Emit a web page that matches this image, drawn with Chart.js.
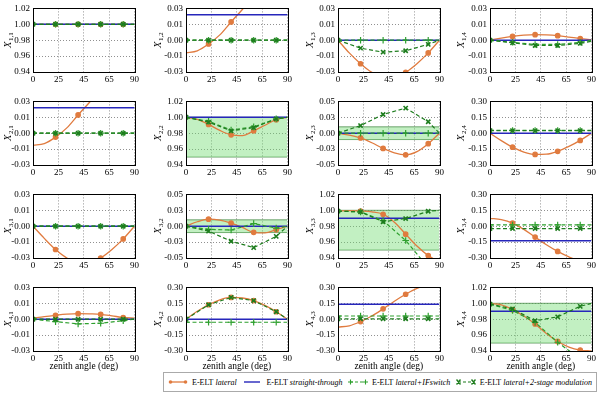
<!DOCTYPE html>
<html><head><meta charset="utf-8">
<script src="https://cdn.jsdelivr.net/npm/chart.js@4.4.0/dist/chart.umd.min.js"></script>
<style>
html,body{margin:0;padding:0;background:#fff;width:600px;height:396px;overflow:hidden;}
body{position:relative;}
canvas{position:absolute;}
#legend{position:absolute;left:163px;top:372px;width:434px;height:20px;border:1px solid #aaa;box-sizing:border-box;background:#fff;
 display:flex;align-items:center;justify-content:space-between;padding:0 4px;font-family:"Liberation Serif",serif;font-size:8px;color:#000;white-space:nowrap;}
#legend span{display:flex;align-items:center;}
#legend svg{margin-right:4px;}
</style></head><body>
<div id="legend">
 <span><svg width="20" height="8"><line x1="2" y1="4" x2="18" y2="4" stroke="#e07b3f" stroke-width="1.3"/><circle cx="2.5" cy="4" r="1.8" fill="#e07b3f"/><circle cx="17.5" cy="4" r="1.8" fill="#e07b3f"/></svg>E-ELT&nbsp;<i>lateral</i></span>
 <span><svg width="20" height="8"><line x1="2" y1="4" x2="18" y2="4" stroke="#2626bb" stroke-width="1.4"/></svg>E-ELT&nbsp;<i>straight-through</i></span>
 <span><svg width="20" height="8"><line x1="2" y1="4" x2="18" y2="4" stroke="#2ea02e" stroke-width="1.1" stroke-dasharray="3,2"/><path d="M0 4h5M2.5 1.5v5M15 4h5M17.5 1.5v5" stroke="#2ea02e" stroke-width="1.1"/></svg>E-ELT&nbsp;<i>lateral+IFswitch</i></span>
 <span><svg width="20" height="8"><line x1="2" y1="4" x2="18" y2="4" stroke="#1e7d1e" stroke-width="1.1" stroke-dasharray="3,2"/><path d="M0.5 1.5l4 5M4.5 1.5l-4 5M15.5 1.5l4 5M19.5 1.5l-4 5" stroke="#1e7d1e" stroke-width="1.4"/></svg>E-ELT&nbsp;<i>lateral+2-stage modulation</i></span>
</div>
<script>
// ---------------- DATA ----------------
const X_TICKS = [0, 22.5, 45, 67.5, 90];
const X_TICK_LABELS = ['0', '25', '45', '65', '90'];

const LAT_X = [0, 10, 20, 30, 40, 50, 60, 70, 80, 90];   // lateral curve sample angles
const LAT_MARK_X = [20, 40, 60, 80];                       // lateral markers
const GREEN_X = [0, 20, 40, 60, 80, 90];                   // IFswitch / 2-stage angles
const GREEN_MARK_X = [0, 20, 40, 60, 80];

const PANEL_NAMES = ['1,1','1,2','1,3','1,4','2,1','2,2','2,3','2,4','3,1','3,2','3,3','3,4','4,1','4,2','4,3','4,4'];

const TICKS_A = ['-0.03', '-0.01', '0.00', '0.01', '0.03'];
const TICKS_B = ['-0.05', '-0.03', '0.00', '0.03', '0.05'];
const TICKS_C = ['-0.30', '-0.15', '0.00', '0.15', '0.30'];
const TICKS_D = ['0.94', '0.96', '0.98', '1.00', '1.02'];

const Y_RANGES = [
  [0.94, 1.02], [-0.03, 0.03], [-0.03, 0.03], [-0.03, 0.03],
  [-0.03, 0.03], [0.94, 1.02], [-0.05, 0.05], [-0.30, 0.30],
  [-0.03, 0.03], [-0.05, 0.05], [0.94, 1.02], [-0.30, 0.30],
  [-0.03, 0.03], [-0.30, 0.30], [-0.30, 0.30], [0.94, 1.02]
];
const Y_TICK_LABELS = [
  TICKS_D, TICKS_A, TICKS_A, TICKS_A,
  TICKS_A, TICKS_D, TICKS_B, TICKS_C,
  TICKS_A, TICKS_B, TICKS_D, TICKS_C,
  TICKS_A, TICKS_C, TICKS_C, TICKS_D
];

// E-ELT lateral (at LAT_X)
const LATERAL = [
  [1, 1, 1, 1, 1, 1, 1, 1, 1, 1],
  [-0.012, -0.010, -0.0036, 0.005, 0.0172, 0.029, 0.041, 0.051, 0.058, 0.061],
  [0, -0.012, -0.0222, -0.0303, -0.0345, -0.0345, -0.0303, -0.0222, -0.012, 0],
  [0, 0.002, 0.0036, 0.0047, 0.0052, 0.005, 0.0043, 0.003, 0.0015, 0.0005],
  [-0.0115, -0.0098, -0.0037, 0.005, 0.0172, 0.029, 0.041, 0.051, 0.058, 0.061],
  [1.0, 0.9975, 0.991, 0.9835, 0.978, 0.977, 0.983, 0.990, 0.997, 1.0],
  [0, -0.003, -0.0075, -0.015, -0.024, -0.031, -0.034, -0.029, -0.0165, 0],
  [0, -0.07, -0.132, -0.178, -0.200, -0.198, -0.171, -0.125, -0.068, 0],
  [0, -0.0115, -0.022, -0.030, -0.0345, -0.0345, -0.030, -0.022, -0.012, 0],
  [0, 0.007, 0.011, 0.0095, 0.0047, -0.002, -0.0097, -0.0105, -0.0055, 0],
  [0.999, 0.9995, 0.999, 0.998, 0.995, 0.985, 0.970, 0.955, 0.943, 0.935],
  [0.074, 0.062, 0.029, -0.03, -0.103, -0.175, -0.238, -0.29, -0.33, -0.345],
  [0.001, 0.0025, 0.0037, 0.0047, 0.0052, 0.005, 0.0046, 0.0032, 0.0016, 0.001],
  [0, 0.075, 0.1365, 0.183, 0.2055, 0.200, 0.1755, 0.130, 0.0705, 0],
  [-0.074, -0.062, -0.0225, 0.03, 0.0975, 0.17, 0.2355, 0.29, 0.33, 0.345],
  [0.9995, 0.998, 0.992, 0.984, 0.974, 0.962, 0.952, 0.945, 0.9412, 0.940]
];

// E-ELT straight-through (constant)
const STRAIGHT = [1.0, 0.024, 0, 0, 0.024, 1.0, 0, 0, 0, 0, 0.99, -0.137, 0, 0, 0.14, 0.99];

// E-ELT lateral+IFswitch (at GREEN_X)
const IFSWITCH = [
  [1, 1, 1, 1, 1, 1],
  [0, 0, 0, 0, 0, 0],
  [0, 0, 0, 0, 0, 0],
  [0, -0.002, -0.004, -0.004, -0.002, 0],
  [0, 0, 0, 0, 0, 0],
  [1.0, 0.995, 0.984, 0.988, 0.998, 1.0],
  [0, 0, 0, 0, 0, 0],
  [0.026, 0.026, 0.026, 0.026, 0.026, 0.026],
  [0, 0, 0, 0, 0, 0],
  [0, -0.005, -0.006, 0.004, -0.003, 0],
  [0.999, 0.998, 0.987, 0.962, 0.928, 0.91],
  [0.012, 0.012, 0.012, 0.012, 0.012, 0.012],
  [0, -0.0023, -0.0044, -0.0038, -0.0013, 0],
  [-0.029, -0.029, -0.029, -0.029, -0.029, -0.029],
  [0.03, 0.03, 0.03, 0.03, 0.03, 0.03],
  [0.999, 0.991, 0.976, 0.951, 0.93, 0.92]
];

// E-ELT lateral+2-stage modulation (at GREEN_X)
const TWO_STAGE = [
  [1, 1, 1, 1, 1, 1],
  [0, 0, 0, 0, 0, 0],
  [0, -0.0075, -0.0113, -0.010, -0.0039, 0],
  [0, -0.0025, -0.005, -0.005, -0.003, -0.001],
  [0, 0, 0, 0, 0, 0],
  [1.0, 0.994, 0.983, 0.987, 0.998, 1.0],
  [0, 0.012, 0.0295, 0.0395, 0.018, 0],
  [0.024, 0.024, 0.024, 0.024, 0.024, 0.024],
  [0, 0, 0, 0, 0, 0],
  [0, -0.0077, -0.0236, -0.0336, -0.016, 0],
  [0.999, 0.998, 0.9856, 0.9896, 0.9988, 1.0],
  [-0.022, -0.022, -0.022, -0.022, -0.022, -0.022],
  [0, 0, 0, 0, 0, 0],
  [0, 0.1365, 0.2055, 0.1755, 0.0705, 0],
  [0.004, 0.004, 0.004, 0.004, 0.004, 0.004],
  [0.999, 0.993, 0.978, 0.983, 0.9962, 1.0]
];

// tolerance bands [low, high] (null = none)
const BANDS = [
  null, null, null, null,
  null, [0.95, 1.0], [-0.01, 0.01], null,
  null, [-0.01, 0.01], [0.95, 1.0], null,
  null, null, null, [0.95, 1.0]
];

// ---------------- LAYOUT / STYLE ----------------
const ROW_TOP = [6, 99, 192, 285];
const COL_LEFT = [33, 186, 338, 490];
const PLOT_W = 102, PLOT_H = 66, Y_AXIS_W = 33, PAD_T = 6, PAD_R = 6;
const YLAB_OFF = [24, 27, 27, 28];
const ORANGE = '#e07b3f', BLUE = '#2626bb', G_IF = '#2ea02e', G_2S = '#1e7d1e';
const BAND_FILL = 'rgba(110,220,110,0.42)', BAND_EDGE = '#4f8f4f';
const FONT = '"Liberation Serif", serif';

const framePlugin = {
  id: 'frame',
  afterDatasetsDraw(chart) {
    const {ctx, chartArea: a} = chart;
    ctx.save();
    ctx.strokeStyle = '#000';
    ctx.lineWidth = 1;
    ctx.strokeRect(Math.round(a.left) + 0.5, Math.round(a.top) + 0.5, Math.round(a.right - a.left), Math.round(a.bottom - a.top));
    ctx.restore();
  }
};
const yLabelPlugin = {
  id: 'ylab',
  afterDraw(chart, args, opts) {
    const {ctx, chartArea: a} = chart;
    const cx = a.left - opts.offset;
    const cy = (a.top + a.bottom) / 2;
    ctx.save();
    ctx.translate(cx, cy);
    ctx.rotate(-Math.PI / 2);
    ctx.fillStyle = '#000';
    ctx.textBaseline = 'middle';
    ctx.textAlign = 'left';
    ctx.font = 'italic 10.5px ' + FONT;
    const wX = ctx.measureText('X').width;
    ctx.font = '7px ' + FONT;
    const wS = ctx.measureText(opts.sub).width;
    const x0 = -(wX + wS + 0.5) / 2;
    ctx.font = 'italic 10.5px ' + FONT;
    ctx.fillText('X', x0, -1);
    ctx.font = '7px ' + FONT;
    ctx.fillText(opts.sub, x0 + wX + 0.5, 2.5);
    ctx.restore();
  }
};

function pts(xs, ys) { return xs.map((x, k) => ({x: x, y: ys[k]})); }

PANEL_NAMES.forEach((name, i) => {
  const r = Math.floor(i / 4), c = i % 4;
  const bottomRow = r === 3;
  const xAxisH = bottomRow ? 24 : 16;
  const W = Y_AXIS_W + PLOT_W + PAD_R;
  const H = PAD_T + PLOT_H + xAxisH;
  const cv = document.createElement('canvas');
  cv.width = W; cv.height = H;
  cv.style.left = (COL_LEFT[c] - Y_AXIS_W) + 'px';
  cv.style.top = (ROW_TOP[r] - PAD_T) + 'px';
  cv.style.width = W + 'px'; cv.style.height = H + 'px';
  document.body.appendChild(cv);

  const [ymin, ymax] = Y_RANGES[i];
  const labels = Y_TICK_LABELS[i];
  const datasets = [];
  datasets.push({
    data: pts(GREEN_X, TWO_STAGE[i]), borderColor: G_2S, borderWidth: 1.2, borderDash: [4, 2.5],
    pointStyle: 'crossRot', pointBorderColor: G_2S, pointBorderWidth: 1.6,
    pointRadius: ctx => GREEN_MARK_X.includes(GREEN_X[ctx.dataIndex]) ? 3 : 0, tension: 0, fill: false
  });
  datasets.push({
    data: pts(GREEN_X, IFSWITCH[i]), borderColor: G_IF, borderWidth: 1.2, borderDash: [4, 2.5],
    pointStyle: 'cross', pointBorderColor: G_IF, pointBorderWidth: 1.2,
    pointRadius: ctx => GREEN_MARK_X.includes(GREEN_X[ctx.dataIndex]) ? 3.3 : 0, tension: 0, fill: false
  });
  datasets.push({
    data: pts([0, 90], [STRAIGHT[i], STRAIGHT[i]]), borderColor: BLUE, borderWidth: 1.5,
    pointRadius: 0, fill: false
  });
  datasets.push({
    data: pts(LAT_X, LATERAL[i]), borderColor: ORANGE, borderWidth: 1.3, backgroundColor: ORANGE,
    pointStyle: 'circle', pointBackgroundColor: ORANGE, pointBorderColor: ORANGE,
    pointRadius: ctx => LAT_MARK_X.includes(LAT_X[ctx.dataIndex]) ? 2.2 : 0,
    cubicInterpolationMode: 'monotone', fill: false
  });
  if (BANDS[i]) {
    datasets.push({
      data: pts([0, 90], [BANDS[i][1], BANDS[i][1]]), borderColor: BAND_EDGE, borderWidth: 0.8,
      backgroundColor: BAND_FILL, pointRadius: 0, fill: '+1'
    });
    datasets.push({
      data: pts([0, 90], [BANDS[i][0], BANDS[i][0]]), borderColor: BAND_EDGE, borderWidth: 0.8,
      pointRadius: 0, fill: false
    });
  }

  new Chart(cv, {
    type: 'line',
    data: {datasets},
    options: {
      responsive: false, animation: false, events: [],
      layout: {padding: {top: PAD_T, right: PAD_R, left: 0, bottom: 0}},
      plugins: {legend: {display: false}, tooltip: {enabled: false},
        ylab: {offset: YLAB_OFF[c], sub: name}},
      scales: {
        x: {
          type: 'linear', min: 0, max: 90,
          afterBuildTicks: s => { s.ticks = X_TICKS.map(v => ({value: v})); },
          afterFit: s => { s.height = xAxisH; },
          ticks: {callback: (v, k) => X_TICK_LABELS[k], font: {family: FONT, size: 9}, color: '#000',
                  padding: 2, maxRotation: 0, autoSkip: false},
          grid: {color: 'rgba(0,0,0,0.55)', lineWidth: 0.8, drawTicks: false},
          border: {display: false, dash: [1, 2]},
          title: {display: bottomRow, text: 'zenith angle (deg)', font: {family: FONT, size: 9.5}, color: '#000',
                  padding: {top: 0, bottom: 3}}
        },
        y: {
          type: 'linear', min: ymin, max: ymax,
          afterBuildTicks: s => { s.ticks = [0, 1, 2, 3, 4].map(k => ({value: ymin + k * (ymax - ymin) / 4})); },
          afterFit: s => { s.width = Y_AXIS_W; },
          ticks: {callback: (v, k) => labels[k], font: {family: FONT, size: 9}, color: '#000',
                  padding: 3, autoSkip: false},
          grid: {color: 'rgba(0,0,0,0.55)', lineWidth: 0.8, drawTicks: false},
          border: {display: false, dash: [1, 2]}
        }
      }
    },
    plugins: [framePlugin, yLabelPlugin]
  });
});
</script>
</body></html>
